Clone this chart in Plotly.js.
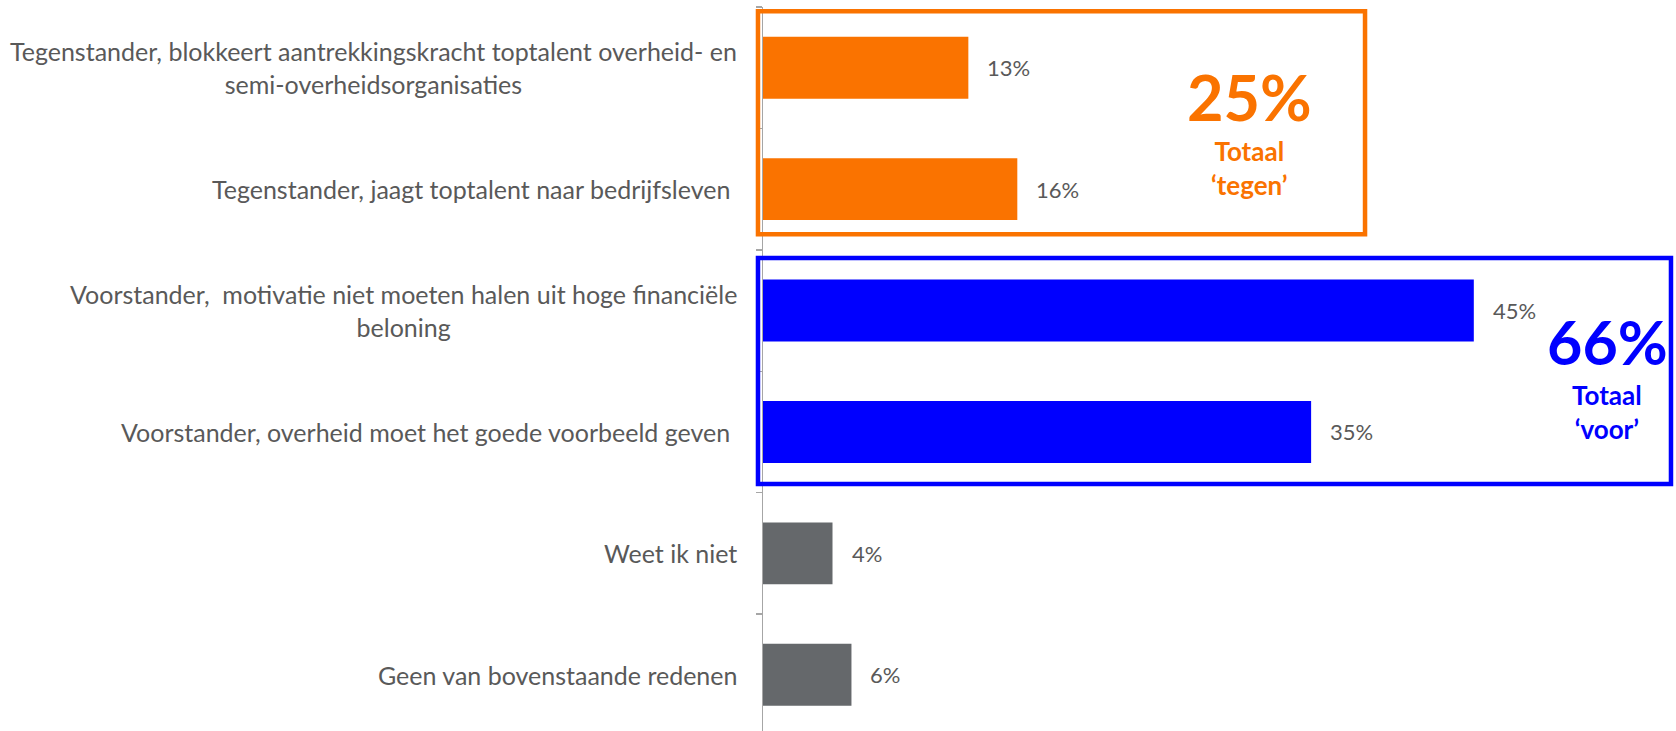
<!DOCTYPE html>
<html>
<head>
<meta charset="utf-8">
<script src="https://cdn.plot.ly/plotly-3.0.1.min.js"></script>
<style>html,body{margin:0;padding:0;background:#fff;}#chart{width:1676px;height:731px;}</style>
</head>
<body>
<div id="chart"></div>
<script>
const categories = [
  "Tegenstander, blokkeert aantrekkingskracht toptalent overheid- en<br>semi-overheidsorganisaties",
  "Tegenstander, jaagt toptalent naar bedrijfsleven ",
  "Voorstander,  motivatie niet moeten halen uit hoge financiële<br>beloning",
  "Voorstander, overheid moet het goede voorbeeld geven ",
  "Weet ik niet",
  "Geen van bovenstaande redenen"
];
const values = [13.0, 16.1, 45.0, 34.7, 4.4, 5.6];
const valueLabels = ["13%", "16%", "45%", "35%", "4%", "6%"];
const groups = ["tegen", "tegen", "voor", "voor", "neutraal", "neutraal"];
const groupColors = {tegen: "#FA7300", voor: "#0000FF", neutraal: "#65686B"};
const totals = [
  {value: "25%", label: "Totaal<br>‘tegen’", color: "#FA7300"},
  {value: "66%", label: "Totaal<br>‘voor’", color: "#0000FF"}
];

const FONT = "Lato, 'Open Sans', sans-serif";
const GRAY = "#595959";

const trace = {
  type: "bar",
  orientation: "h",
  x: values,
  y: categories,
  width: 0.51,
  marker: {color: groups.map(g => groupColors[g])},
  hoverinfo: "skip"
};

const annotations = [];
categories.forEach((c, i) => {
  annotations.push({
    xref: "paper", yref: "y", x: 0, y: c, xanchor: "right", yanchor: "middle",
    xshift: -24, align: "center", showarrow: false, text: c,
    font: {family: FONT, size: 25, color: GRAY}
  });
  annotations.push({
    xref: "x", yref: "y", x: values[i], y: c, xanchor: "left", yanchor: "middle",
    xshift: 17, showarrow: false, text: valueLabels[i],
    font: {family: FONT, size: 22, color: GRAY}
  });
});
// totals
annotations.push({xref: "paper", yref: "paper", x: 0.5334, y: 0.8757, xanchor: "center", yanchor: "middle",
  showarrow: false, text: "<b>" + totals[0].value + "</b>", font: {family: FONT, size: 63, color: totals[0].color}});
annotations.push({xref: "paper", yref: "paper", x: 0.5334, y: 0.7776, xanchor: "center", yanchor: "middle",
  showarrow: false, align: "center", text: "<b>" + totals[0].label + "</b>", font: {family: FONT, size: 26, color: totals[0].color}});
annotations.push({xref: "paper", yref: "paper", x: 0.9245, y: 0.5377, xanchor: "center", yanchor: "middle",
  showarrow: false, text: "<b>" + totals[1].value + "</b>", font: {family: FONT, size: 61, color: totals[1].color}});
annotations.push({xref: "paper", yref: "paper", x: 0.9245, y: 0.4406, xanchor: "center", yanchor: "middle",
  showarrow: false, align: "center", text: "<b>" + totals[1].label + "</b>", font: {family: FONT, size: 26, color: totals[1].color}});

const shapes = [
  {type: "rect", xref: "paper", yref: "paper", x0: -0.0055, x1: 0.6594, y0: 0.686, y1: 0.9942,
   line: {color: "#FA7300", width: 4.5}, fillcolor: "rgba(0,0,0,0)", layer: "above"},
  {type: "rect", xref: "paper", yref: "paper", x0: -0.0055, x1: 0.9945, y0: 0.341, y1: 0.6534,
   line: {color: "#0000FF", width: 4.5}, fillcolor: "rgba(0,0,0,0)", layer: "above"}
];

const layout = {
  width: 1676, height: 731,
  margin: {l: 763, r: 0, t: 7, b: 0, pad: 0},
  paper_bgcolor: "#ffffff", plot_bgcolor: "#ffffff",
  showlegend: false,
  bargap: 0.49,
  xaxis: {range: [0, 57.8], visible: false, fixedrange: true},
  yaxis: {
    type: "category",
    range: [5.463, -0.5],
    showticklabels: false,
    ticks: "outside", tickson: "boundaries", ticklen: 6, tickwidth: 1.5, tickcolor: "#a6a6a6",
    showline: true, linecolor: "#a6a6a6", linewidth: 1.5,
    showgrid: false, zeroline: false, fixedrange: true
  },
  annotations: annotations,
  shapes: shapes
};

Plotly.newPlot("chart", [trace], layout, {displayModeBar: false, staticPlot: true});
</script>
</body>
</html>
